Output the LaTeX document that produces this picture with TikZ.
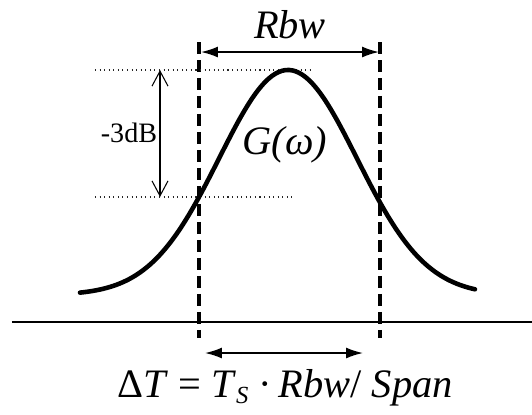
\documentclass[tikz,border=0pt]{standalone}
\usepackage{fontspec}
\setmainfont{Liberation Serif}[ItalicFont={Liberation Serif Italic}]
\usepackage{tikz}
\usetikzlibrary{arrows.meta,positioning,calc}

\tikzset{
  bigtext/.style={font=\fontsize{23}{26}\selectfont\itshape, inner sep=0pt},
  smalltext/.style={font=\fontsize{16}{18}\selectfont, inner sep=0pt},
  bwline/.style={line width=2pt, dash pattern=on 0.24cm off 0.12cm},
  levelline/.style={line width=0.6pt, dotted, black!85},
  span/.style={line width=0.9pt, {Latex[length=0.34cm,width=0.22cm]}-{Latex[length=0.34cm,width=0.22cm]}},
  dbarrow/.style={line width=0.6pt, {Straight Barb[length=0.3cm,width=0.32cm]}-{Straight Barb[length=0.3cm,width=0.32cm]}},
}

\begin{document}
\begin{tikzpicture}[x=0.02cm, y=-0.02cm]
    \useasboundingbox (0,0) rectangle (532,414);
    % axis
    \draw[line width=1.2pt] (12,322) -- (532,322);
    % bandwidth edges
    \coordinate (lt) at (199,42);
    \coordinate (lb) at (199,338);
    \coordinate (rt) at (380,42);
    \coordinate (rb) at (380,338);
    \draw[bwline] (lt) -- (lb);
    \draw[bwline] (rt) -- (rb);
    % -3dB levels
    \coordinate (peakl) at (95,70);
    \coordinate (peakr) at (310,70);
    \coordinate (halfl) at (95,197);
    \coordinate (halfr) at (292,197);
    \draw[levelline] (peakl) -- (peakr);
    \draw[levelline] (halfl) -- (halfr);
    \draw[dbarrow] (160,70) -- (160,197);
    \node[smalltext] (db) at (129,133) {-3dB};
    % filter shape
    \draw[line width=2.6pt, line cap=round] plot[domain=80:475, samples=120, smooth]
        (\x, {295-225*exp(-0.5*((\x-288)/69)^2)});
    \node[bigtext] (gain) at (285,145) {G(ω)};
    % Rbw
    \coordinate (rbwl) at (201,52);
    \coordinate (rbwr) at (379,52);
    \draw[span] (rbwl) -- (rbwr);
    \node[bigtext] (rbw) at (290,25) {Rbw};
    % sweep time
    \coordinate (dtl) at (205,353);
    \coordinate (dtr) at (363,353);
    \draw[span] (dtl) -- (dtr);
    \node[bigtext, font=\fontsize{23}{26}\selectfont] (dt) at (285,388)
        {Δ\textit{T} = \textit{T}\raisebox{-0.3ex}{\fontsize{14}{15}\selectfont\textit{S}} ·\,\textit{Rbw}/ \textit{Span}};
\end{tikzpicture}
\end{document}
